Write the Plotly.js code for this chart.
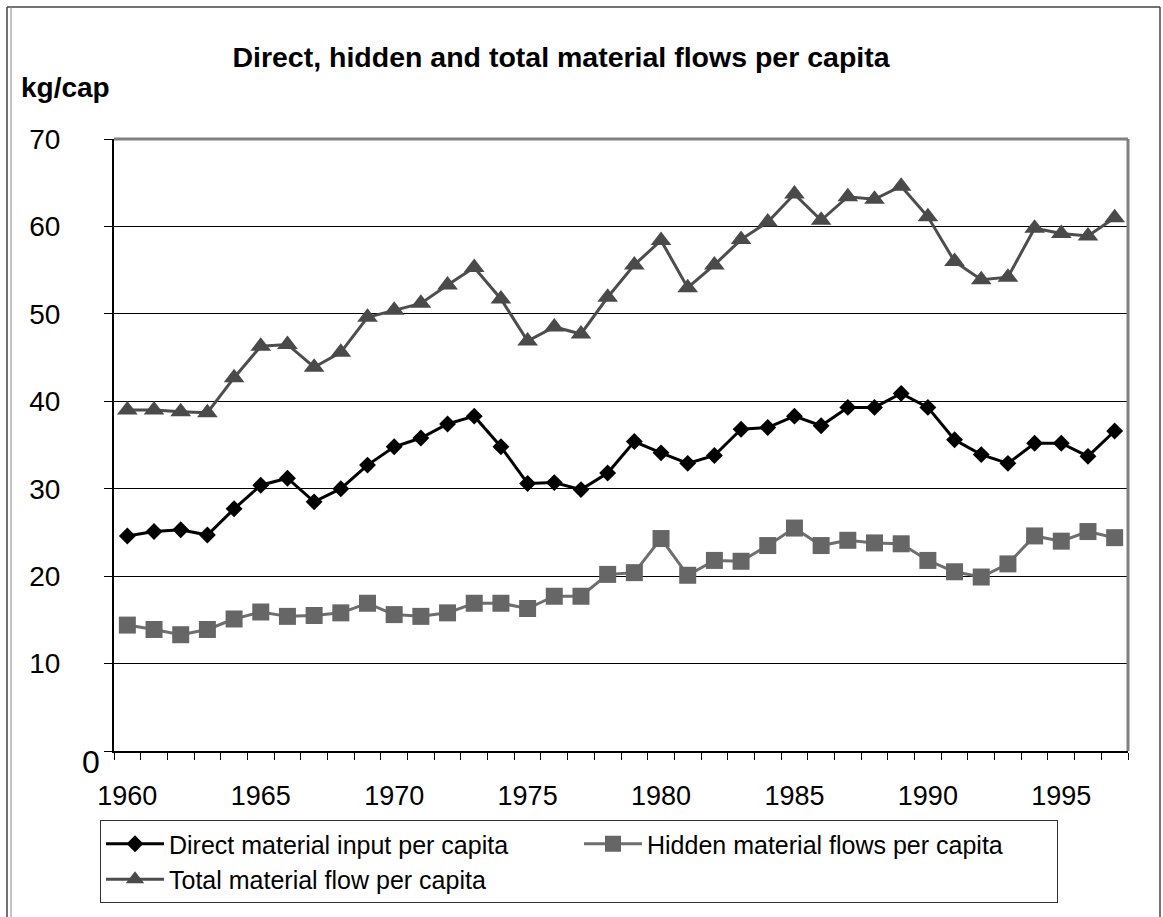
<!DOCTYPE html>
<html>
<head>
<meta charset="utf-8">
<script src="https://cdn.plot.ly/plotly-3.0.1.min.js"></script>
<style>
  html, body { margin: 0; padding: 0; background: #ffffff; }
  #chart { width: 1163px; height: 917px; }
</style>
</head>
<body>
<div id="chart"></div>
<script>
// Material flows per inhabitant, kg per capita, 1960-1997
const years = [1960, 1961, 1962, 1963, 1964, 1965, 1966, 1967, 1968, 1969,
               1970, 1971, 1972, 1973, 1974, 1975, 1976, 1977, 1978, 1979,
               1980, 1981, 1982, 1983, 1984, 1985, 1986, 1987, 1988, 1989,
               1990, 1991, 1992, 1993, 1994, 1995, 1996, 1997];

const directInput = [24.6, 25.1, 25.3, 24.7, 27.7, 30.4, 31.2, 28.5, 30.0, 32.7,
                     34.8, 35.8, 37.4, 38.3, 34.8, 30.6, 30.7, 29.9, 31.8, 35.4,
                     34.1, 32.9, 33.8, 36.8, 37.0, 38.3, 37.2, 39.3, 39.3, 40.9,
                     39.3, 35.6, 33.9, 32.9, 35.2, 35.2, 33.7, 36.6];

const hiddenFlows = [14.4, 13.9, 13.3, 13.9, 15.1, 15.9, 15.4, 15.5, 15.8, 16.9,
                     15.6, 15.4, 15.8, 16.9, 16.9, 16.3, 17.7, 17.7, 20.2, 20.4,
                     24.3, 20.1, 21.8, 21.7, 23.5, 25.5, 23.5, 24.1, 23.8, 23.7,
                     21.8, 20.5, 19.9, 21.4, 24.6, 24.0, 25.1, 24.4];

const totalFlow = [39.0, 39.0, 38.8, 38.7, 42.7, 46.3, 46.5, 43.9, 45.6, 49.6,
                   50.4, 51.2, 53.3, 55.3, 51.7, 46.9, 48.5, 47.7, 51.9, 55.6,
                   58.4, 53.0, 55.6, 58.5, 60.5, 63.7, 60.7, 63.4, 63.1, 64.6,
                   61.1, 56.0, 53.9, 54.2, 59.8, 59.2, 58.9, 61.0];

const seriesNames = ['Direct material input per capita',
                     'Hidden material flows per capita',
                     'Total material flow per capita'];

const xTickVals = [1960, 1965, 1970, 1975, 1980, 1985, 1990, 1995];
const xTickText = ['1960', '1965', '1970', '1975', '1980', '1985', '1990', '1995'];
const yTickVals = [0, 10, 20, 30, 40, 50, 60, 70];
const yTickText = ['', '10', '20', '30', '40', '50', '60', '70'];

const chartTitle = 'Direct, hidden and total material flows per capita';
const unitLabel = 'kg/cap';
const zeroLabel = '0';

// page geometry (pixels) used to place frame lines in paper units
const W = 1163, H = 917;
const M = { l: 114, r: 35, t: 139, b: 166 };
const PW = W - M.l - M.r, PH = H - M.t - M.b;
const px = v => (v - M.l) / PW;
const py = v => (H - M.b - v) / PH;

const FONT = 'Arial, "Liberation Sans", sans-serif';

const traces = [
  {
    x: years, y: directInput, name: seriesNames[0], type: 'scatter', mode: 'lines+markers',
    line: { color: '#000000', width: 3 },
    marker: { symbol: 'diamond', size: 13, color: '#000000', line: { width: 0 } }
  },
  {
    x: years, y: hiddenFlows, name: seriesNames[1], type: 'scatter', mode: 'lines+markers',
    line: { color: '#6e6e6e', width: 3 },
    marker: { symbol: 'square', size: 17, color: '#666666', line: { width: 0 } }
  },
  {
    x: years, y: totalFlow, name: seriesNames[2], type: 'scatter', mode: 'lines+markers',
    line: { color: '#4d4d4d', width: 3 },
    marker: { symbol: 'triangle-up', size: 18, color: '#4a4a4a', line: { width: 0 } }
  }
];

const frameLine = (x0, y0, x1, y1, color, width) => ({
  type: 'line', xref: 'paper', yref: 'paper',
  x0: px(x0), y0: py(y0), x1: px(x1), y1: py(y1),
  line: { color: color, width: width }, layer: 'above'
});

const layout = {
  width: W, height: H,
  margin: M,
  paper_bgcolor: '#ffffff',
  plot_bgcolor: '#ffffff',
  font: { family: FONT, color: '#000000' },
  showlegend: true,
  title: {
    text: '<b>' + chartTitle + '</b>',
    font: { family: FONT, size: 28.5, color: '#000000' },
    xref: 'paper', x: px(561), xanchor: 'center',
    yref: 'container', y: 1 - 57 / H, yanchor: 'middle'
  },
  xaxis: {
    range: [1959.5, 1997.5],
    tickmode: 'array', tickvals: xTickVals, ticktext: xTickText,
    ticks: '', ticklabelstandoff: 20,
    tickfont: { family: FONT, size: 27, color: '#000000' },
    showline: true, linecolor: '#000000', linewidth: 2,
    showgrid: false, zeroline: false,
    minor: { ticks: 'outside', tick0: 1959.5, dtick: 1, ticklen: 7, tickwidth: 1, tickcolor: '#000000', showgrid: false }
  },
  yaxis: {
    range: [0, 70],
    tickmode: 'array', tickvals: yTickVals, ticktext: yTickText,
    ticks: 'outside', ticklen: 8, tickwidth: 1, tickcolor: '#000000',
    ticklabelstandoff: 38,
    tickfont: { family: FONT, size: 28, color: '#000000' },
    showline: true, linecolor: '#000000', linewidth: 2,
    showgrid: true, gridcolor: '#000000', gridwidth: 1,
    zeroline: false
  },
  legend: {
    orientation: 'h',
    x: px(100), xanchor: 'left',
    y: py(820), yanchor: 'top',
    bgcolor: '#ffffff', bordercolor: '#333333', borderwidth: 1,
    font: { family: FONT, size: 25, color: '#000000' },
    entrywidth: 405, entrywidthmode: 'pixels',
    itemwidth: 58, traceorder: 'normal'
  },
  annotations: [
    {
      text: '<b>' + unitLabel + '</b>', xref: 'paper', yref: 'paper',
      x: px(19), xanchor: 'left', y: py(87), yanchor: 'middle',
      showarrow: false, font: { family: FONT, size: 28, color: '#000000' }
    },
    {
      text: zeroLabel, xref: 'paper', yref: 'y',
      x: px(102), xanchor: 'right', y: 0, yanchor: 'middle', yshift: -11,
      showarrow: false, font: { family: FONT, size: 32, color: '#000000' }
    }
  ],
  shapes: [
    // plot area border (top and right)
    frameLine(114, 139, 1128, 139, '#808080', 3),
    frameLine(1128, 139, 1128, 751, '#808080', 3),
    // outer page frame
    frameLine(7, 7, 1160, 7, '#444444', 1.5),
    frameLine(7, 7, 7, 917, '#444444', 1.5),
    frameLine(11, 7, 11, 917, '#888888', 1),
    frameLine(1160, 7, 1160, 917, '#444444', 1.5)
  ]
};

Plotly.newPlot('chart', traces, layout, { staticPlot: true, displayModeBar: false });
</script>
</body>
</html>
